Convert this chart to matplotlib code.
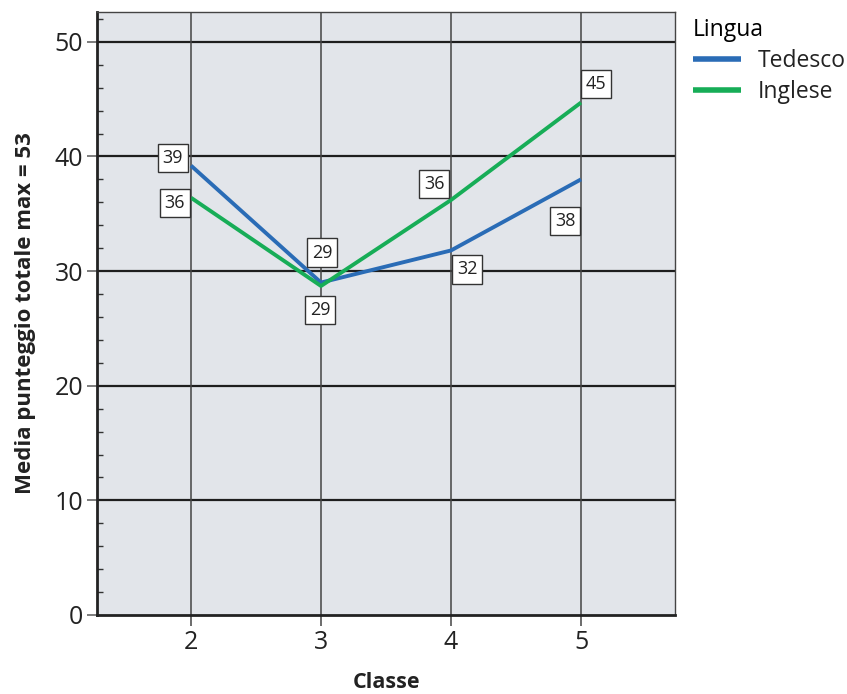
import numpy as np
import matplotlib.pyplot as plt
from matplotlib.ticker import MultipleLocator

plt.rcParams['font.family'] = ['Open Sans', 'DejaVu Sans']

# data
classi = [2, 3, 4, 5]
tedesco = [39.2, 29.0, 31.8, 38.0]
inglese = [36.4, 28.7, 36.2, 44.7]
# label offsets in pixels (dx, dy)
off_ted = [(-18, 8), (1, 30), (16, -19), (-16, -42)]
off_ing = [(-16, -5), (-1, -24), (-17, 16), (15, 19)]

blue = '#2a6cb6'
green = '#17ad57'
bg = '#e2e5ea'

fig = plt.figure(figsize=(8.47, 6.94), dpi=100)
ax = fig.add_axes([97/847, 1-615/694, (675-97)/847, (615-12)/694])
ax.set_facecolor(bg)

ax.set_xlim(1.277, 5.723)
ax.set_ylim(0, 52.6)

# grid
for y in range(10, 60, 10):
    ax.axhline(y, color='#1e1e1e', lw=1.6, zorder=1)
for x in classi:
    ax.axvline(x, color='#444444', lw=1.1, zorder=1)

ax.plot(classi, tedesco, color=blue, lw=2.8, label='Tedesco', zorder=3, solid_capstyle='butt')
ax.plot(classi, inglese, color=green, lw=2.8, label='Inglese', zorder=3, solid_capstyle='butt')

box = dict(boxstyle='square,pad=0.28', fc='white', ec='#333333', lw=1.0)
for xs, vals, offs in [(classi, tedesco, off_ted), (classi, inglese, off_ing)]:
    for x, v, o in zip(xs, vals, offs):
        ax.annotate(str(int(round(v))), (x, v), xytext=o, textcoords='offset pixels',
                    ha='center', va='center', fontsize=13, color='#222222',
                    bbox=box, zorder=5)

ax.set_xticks(classi)
ax.set_yticks(range(0, 60, 10))
ax.yaxis.set_minor_locator(MultipleLocator(2))
ax.tick_params(axis='y', which='major', direction='out', length=7, width=1.2,
               color='#666666', labelsize=18, labelcolor='#222222', pad=3)
ax.tick_params(axis='y', which='minor', direction='in', length=4, width=1.0, color='#333333')
ax.tick_params(axis='x', which='major', direction='out', length=8, width=1.1,
               color='#444444', labelsize=18, labelcolor='#222222', pad=3)

for s in ['left', 'bottom']:
    ax.spines[s].set_linewidth(2)
    ax.spines[s].set_color('#222222')
for s in ['top', 'right']:
    ax.spines[s].set_linewidth(1)
    ax.spines[s].set_color('#444444')

ax.set_xlabel('Classe', fontsize=15.5, fontweight='bold', color='#222222', labelpad=12)
ax.set_ylabel('Media punteggio totale max = 53', fontsize=16, fontweight='bold',
              color='#222222', labelpad=13)

leg = fig.legend(loc='upper left', bbox_to_anchor=(684/847, 1-9/694), frameon=False,
                 title='Lingua', fontsize=16.5, title_fontsize=16.5, handlelength=2.1,
                 handletextpad=0.7, labelspacing=0.3, borderaxespad=0)
leg._legend_box.align = 'left'
for h in leg.legend_handles:
    h.set_linewidth(4)
for t in leg.get_texts():
    t.set_color('#222222')

fig.savefig('out.png', dpi=100)
